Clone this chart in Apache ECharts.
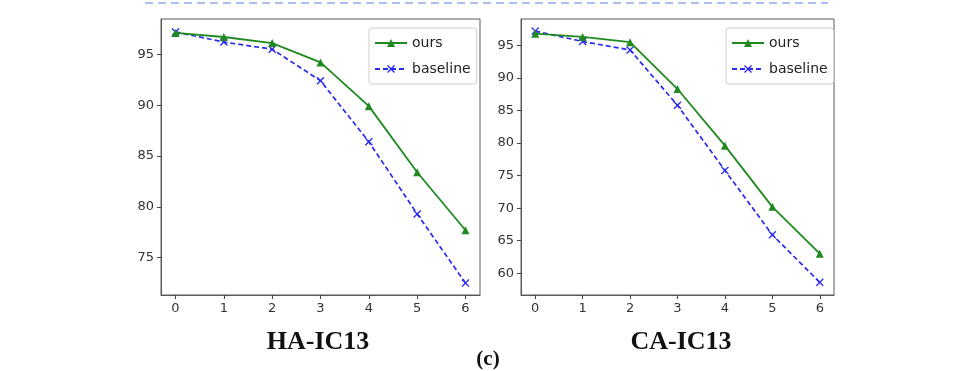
<!DOCTYPE html>
<html>
<head>
<meta charset="utf-8">
<script src="https://cdn.jsdelivr.net/npm/echarts@6/dist/echarts.min.js"></script>
<style>
html,body{margin:0;padding:0;background:#fff;}
#c{width:960px;height:371px;}
</style>
</head>
<body>
<div id="c"></div>
<script>
// ---- data ----
const xTicks = [0, 1, 2, 3, 4, 5, 6];
const haOurs     = [97.1, 96.7, 96.1, 94.2, 89.9, 83.4, 77.7];
const haBaseline = [97.2, 96.2, 95.5, 92.4, 86.4, 79.3, 72.5];
const caOurs     = [96.8, 96.3, 95.5, 88.3, 79.6, 70.2, 63.0];
const caBaseline = [97.2, 95.6, 94.3, 85.8, 75.8, 65.9, 58.6];
const haYTicks = [75, 80, 85, 90, 95];
const caYTicks = [60, 65, 70, 75, 80, 85, 90, 95];
const seriesNames = ['ours', 'baseline'];
const panelTitles = ['HA-IC13', 'CA-IC13'];
const figLabel = '(c)';

const pairs = v => xTicks.map((x, i) => [x, v[i]]);
const xSym = 'path://M0,1.2L1.2,0L5,3.8L8.8,0L10,1.2L6.2,5L10,8.8L8.8,10L5,6.2L1.2,10L0,8.8L3.8,5Z';
const tickFont = {fontFamily: 'DejaVu Sans', fontSize: 13, color: '#333'};
const frame = '#5a5a5a';

function xAxis(gi) {
  return {
    type: 'value', gridIndex: gi, min: -0.3, max: 6.3,
    splitLine: {show: false},
    axisLine: {show: true, onZero: false, lineStyle: {color: frame, width: 1}},
    axisTick: {show: true, inside: false, length: 4, lineStyle: {color: '#444'}, customValues: xTicks},
    axisLabel: Object.assign({margin: 7, customValues: xTicks}, tickFont)
  };
}
function yAxis(gi, min, max, ticks) {
  return {
    type: 'value', gridIndex: gi, min: min, max: max,
    splitLine: {show: false},
    axisLine: {show: true, onZero: false, lineStyle: {color: frame, width: 1}},
    axisTick: {show: true, inside: false, length: 4, lineStyle: {color: '#444'}, customValues: ticks},
    axisLabel: Object.assign({margin: 7, customValues: ticks}, tickFont)
  };
}
function oursSeries(gi, data) {
  return {
    name: seriesNames[0], type: 'line', xAxisIndex: gi, yAxisIndex: gi,
    data: pairs(data), symbol: 'triangle', symbolSize: 8, showSymbol: true,
    lineStyle: {color: '#1f8a1f', width: 1.8},
    itemStyle: {color: '#1f8a1f'}, animation: false, z: 3
  };
}
function baseSeries(gi, data) {
  return {
    name: seriesNames[1], type: 'line', xAxisIndex: gi, yAxisIndex: gi,
    data: pairs(data), symbol: xSym, symbolSize: 8, showSymbol: true,
    lineStyle: {color: '#2a2af0', width: 1.7, type: [5, 3]},
    itemStyle: {color: '#2a2af0'}, animation: false, z: 2
  };
}
function legend(left) {
  return {
    data: seriesNames, orient: 'vertical', left: left, top: 28,
    padding: [8, 6, 8, 5], itemGap: 12, itemWidth: 32, itemHeight: 10,
    backgroundColor: '#fff', borderColor: '#d0d0d0', borderWidth: 1, borderRadius: 3,
    textStyle: {fontFamily: 'DejaVu Sans', fontSize: 14, color: '#222', lineHeight: 14},
    selectedMode: false
  };
}

const chart = echarts.init(document.getElementById('c'), null, {renderer: 'canvas'});
chart.setOption({
  animation: false,
  backgroundColor: '#fff',
  grid: [
    {left: 161, top: 19, width: 319, height: 276, show: true, borderColor: frame, borderWidth: 1, backgroundColor: 'transparent'},
    {left: 521, top: 19, width: 313, height: 276, show: true, borderColor: frame, borderWidth: 1, backgroundColor: 'transparent'}
  ],
  xAxis: [xAxis(0), xAxis(1)],
  yAxis: [yAxis(0, 71.33, 98.47, haYTicks), yAxis(1, 56.66, 99.06, caYTicks)],
  legend: [legend(369), legend(726)],
  series: [
    oursSeries(0, haOurs), baseSeries(0, haBaseline),
    oursSeries(1, caOurs), baseSeries(1, caBaseline)
  ],
  graphic: [
    {type: 'line', shape: {x1: 145, y1: 3, x2: 828, y2: 3},
     style: {stroke: '#a9c1ee', lineWidth: 2, lineDash: [8, 5]}},
    {type: 'text', x: 318, y: 342, style: {text: panelTitles[0], font: 'bold 26px "Liberation Serif"', fill: '#111', textAlign: 'center', textVerticalAlign: 'middle'}},
    {type: 'text', x: 681, y: 342, style: {text: panelTitles[1], font: 'bold 26px "Liberation Serif"', fill: '#111', textAlign: 'center', textVerticalAlign: 'middle'}},
    {type: 'text', x: 488, y: 360, style: {text: figLabel, font: 'bold 21px "Liberation Serif"', fill: '#111', textAlign: 'center', textVerticalAlign: 'middle'}}
  ]
});
</script>
</body>
</html>
